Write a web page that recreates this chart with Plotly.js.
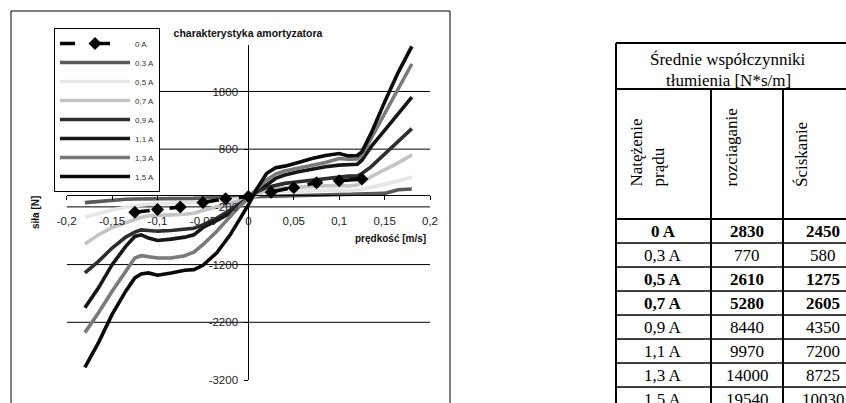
<!DOCTYPE html>
<html>
<head>
<meta charset="utf-8">
<script src="https://cdn.plot.ly/plotly-3.0.1.min.js"></script>
<style>
  html, body { margin: 0; padding: 0; background: #fff; }
  #chart { width: 846px; height: 403px; }
</style>
</head>
<body>
<div id="chart"></div>
<script>
// ---- shock absorber characteristic: force vs. piston velocity ----
const velocity = [-0.18, -0.165, -0.15, -0.135, -0.125, -0.118, -0.11, -0.1, -0.085, -0.07,
                  -0.06, -0.05, -0.035, -0.02, -0.01, 0, 0.01, 0.02, 0.03, 0.04,
                  0.055, 0.07, 0.085, 0.1, 0.11, 0.12, 0.125, 0.135, 0.15, 0.165, 0.18];

const force03 = [-126, -103, -80, -69, -63, -63, -63, -57, -57, -52,
                 -52, -46, -40, -29, -23, -11, -11, -11, -6, -6,
                 0, 6, 11, 17, 17, 23, 23, 29, 34, 98, 109];
const force05 = [-379, -310, -253, -207, -178, -167, -155, -149, -144, -138,
                 -126, -109, -92, -75, -63, -46, 6, 46, 63, 69,
                 75, 80, 86, 92, 80, 86, 103, 138, 190, 247, 316];
const force07 = [-845, -684, -557, -466, -408, -379, -356, -345, -339, -328,
                 -310, -264, -207, -149, -98, -40, 34, 92, 121, 132,
                 144, 155, 167, 172, 161, 178, 218, 322, 437, 563, 701];
const force09 = [-1345, -1144, -914, -724, -638, -598, -609, -621, -609, -586,
                 -569, -511, -397, -253, -149, -52, 63, 138, 178, 207,
                 236, 264, 293, 322, 333, 333, 379, 494, 713, 925, 1155];
const force11 = [-1948, -1603, -1201, -885, -713, -684, -741, -782, -759, -724,
                 -684, -557, -437, -310, -184, -52, 121, 178, 293, 351,
                 408, 454, 494, 523, 534, 540, 609, 839, 1126, 1414, 1701];
const force13 = [-2379, -2034, -1661, -1316, -1086, -1046, -1057, -1086, -1086, -1046,
                 -983, -856, -626, -368, -195, -52, 121, 264, 368, 420,
                 466, 511, 569, 638, 626, 632, 695, 983, 1414, 1845, 2276];
const force15 = [-2983, -2552, -2063, -1661, -1431, -1362, -1345, -1385, -1345, -1299,
                 -1287, -1213, -1000, -684, -425, -167, 130, 379, 477, 506,
                 569, 638, 690, 724, 684, 690, 753, 1069, 1615, 2132, 2580];

// passive damper (0 A) measured at coarser steps
const velocity0 = [-0.125, -0.1, -0.075, -0.05, -0.025, 0, 0.025, 0.05, 0.075, 0.1, 0.125];
const force0    = [-293, -247, -201, -124, -58, -20, 55, 130, 218, 253, 282];

const seriesNames = ["0 A", "0,3 A", "0,5 A", "0,7 A", "0,9 A", "1,1 A", "1,3 A", "1,5 A"];

// axis ticks
const xTickVals = [-0.2, -0.15, -0.1, -0.05, 0, 0.05, 0.1, 0.15, 0.2];
const xTickText = ["-0,2", "-0,15", "-0,1", "-0,05", "0", "0,05", "0,1", "0,15", "0,2"];
const yTickVals = [-3200, -2200, -1200, -200, 800, 1800];
const yTickText = ["-3200", "-2200", "-1200", "-200", "800", "1800"];
const yGridVals = [-2200, -1200, -200, 800, 1800];

// damping coefficient table
const tableCurrents    = ["0 A", "0,3 A", "0,5 A", "0,7 A", "0,9 A", "1,1 A", "1,3 A", "1,5 A"];
const tableRebound     = [2830, 770, 2610, 5280, 8440, 9970, 14000, 19540];
const tableCompression = [2450, 580, 1275, 2605, 4350, 7200, 8725, 10030];
const tableBoldRows    = [true, false, true, true, false, false, false, false];

// ---- page geometry (pixel helpers on a zero-margin paper) ----
const W = 846, H = 403;
const px = x => x / W;
const py = y => 1 - y / H;

const X_RANGE = [-0.2, 0.2];
const Y_RANGE = [-3200, 2600];
const xDom = [px(66.7), px(430)];
const yDom = [py(380), py(45.3)];
// axes cross at the origin
const xZeroPos = xDom[0] + (0 - X_RANGE[0]) / (X_RANGE[1] - X_RANGE[0]) * (xDom[1] - xDom[0]);
const yZeroPos = yDom[0] + (0 - Y_RANGE[0]) / (Y_RANGE[1] - Y_RANGE[0]) * (yDom[1] - yDom[0]);

const SANS = "Liberation Sans, Arial, sans-serif";
const SERIF = "Liberation Serif, Times New Roman, serif";

const lineStyles = [
  { color: "#595959" }, // 0,3 A
  { color: "#e6e6e6" }, // 0,5 A
  { color: "#c4c4c4" }, // 0,7 A
  { color: "#2e2e2e" }, // 0,9 A
  { color: "#161616" }, // 1,1 A
  { color: "#7a7a7a" }, // 1,3 A
  { color: "#0a0a0a" }  // 1,5 A
];
const curves = [force03, force05, force07, force09, force11, force13, force15];

const traces = curves.map((f, i) => ({
  type: "scatter", mode: "lines",
  x: velocity, y: f,
  name: seriesNames[i + 1],
  legendrank: i + 2,
  legendgroup: "g" + (i + 1),
  line: { color: lineStyles[i].color, width: 3.6 },
  hoverinfo: "skip"
}));

traces.push({
  type: "scatter", mode: "lines+markers",
  x: velocity0, y: force0,
  name: seriesNames[0],
  legendrank: 1,
  legendgroup: "g0",
  line: { color: "#000", width: 3.6, dash: "15px,20px" },
  marker: { symbol: "diamond", size: 10, color: "#000" },
  hoverinfo: "skip"
});

// ---- shapes: chart frame, gridlines, table rules ----
const shapes = [];
shapes.push({ type: "rect", xref: "paper", yref: "paper",
  x0: px(11), x1: px(450), y0: py(420), y1: py(11),
  line: { color: "#000", width: 1 }, fillcolor: "rgba(0,0,0,0)", layer: "below" });

yGridVals.forEach(v => shapes.push({
  type: "line", xref: "x", yref: "y", x0: X_RANGE[0], x1: X_RANGE[1], y0: v, y1: v,
  line: { color: "#000", width: 1 }, layer: "below" }));

const T_LEFT = 616, T_RIGHT = 862, T_TOP = 43, T_SEP = 89, T_HEAD = 219, ROW_H = 24;
const colX = [T_LEFT, 711, 783];
const colCenter = [663, 747, 823];
const tLine = (x0, y0, x1, y1, w) => shapes.push({ type: "line", xref: "paper", yref: "paper",
  x0: px(x0), y0: py(y0), x1: px(x1), y1: py(y1), line: { color: "#000", width: w } });
tLine(T_LEFT, T_TOP, T_RIGHT, T_TOP, 2);
tLine(T_LEFT, T_TOP, T_LEFT, 420, 2);
tLine(T_LEFT, T_SEP, T_RIGHT, T_SEP, 2);
tLine(T_LEFT, T_HEAD, T_RIGHT, T_HEAD, 2);
tLine(colX[1], T_SEP, colX[1], 420, 2);
tLine(colX[2], T_SEP, colX[2], 420, 2);
for (let k = 1; k < tableCurrents.length; k++) {
  const y = T_HEAD + k * ROW_H;
  tLine(T_LEFT, y, T_RIGHT, y, 1.5);
}

// ---- annotations: axis titles and table text ----
const label = (x, y, text, font, extra) => Object.assign({
  xref: "paper", yref: "paper", x: px(x), y: py(y), text: text,
  xanchor: "center", yanchor: "middle", showarrow: false, font: font
}, extra || {});

const axisFont = { family: SANS, size: 10, color: "#111" };
const tableFont = { family: SERIF, size: 17, color: "#000" };

const annotations = [
  label(390, 238, "<b>prędkość [m/s]</b>", axisFont),
  label(35, 213, "<b>siła [N]</b>", axisFont, { textangle: -90 }),
  label(728, 60, "Średnie współczynniki", tableFont),
  label(728, 80, "tłumienia [N*s/m]", tableFont),
  label(624, 189, "Natężenie<br>prądu", tableFont,
        { xanchor: "left", yanchor: "bottom", align: "left", textangle: -90 }),
  label(719, 189, "rozciaganie", tableFont,
        { xanchor: "left", yanchor: "bottom", textangle: -90 }),
  label(790, 189, "Ściskanie", tableFont,
        { xanchor: "left", yanchor: "bottom", textangle: -90 })
];

tableCurrents.forEach((cur, i) => {
  const yc = T_HEAD + ROW_H * (i + 0.5);
  const wrap = s => tableBoldRows[i] ? "<b>" + s + "</b>" : String(s);
  [cur, tableRebound[i], tableCompression[i]].forEach((val, c) =>
    annotations.push(label(colCenter[c], yc, wrap(val), tableFont)));
});

const layout = {
  width: W, height: H,
  margin: { l: 0, r: 0, t: 0, b: 0 },
  paper_bgcolor: "#fff",
  plot_bgcolor: "rgba(0,0,0,0)",
  title: {
    text: "<b>charakterystyka amortyzatora</b>",
    xref: "paper", yref: "paper",
    x: px(248), xanchor: "center", y: py(33), yanchor: "middle",
    font: { family: SANS, size: 10.5, color: "#111" }
  },
  xaxis: {
    domain: xDom, range: X_RANGE, anchor: "free", position: yZeroPos,
    showline: true, linecolor: "#000", linewidth: 1,
    ticks: "outside", ticklen: 4, tickcolor: "#000", tickwidth: 1,
    tickvals: xTickVals, ticktext: xTickText,
    ticklabelstandoff: 11,
    showgrid: false, zeroline: false, fixedrange: true,
    tickfont: { family: SANS, size: 11.5, color: "#222" }
  },
  yaxis: {
    domain: yDom, range: Y_RANGE, anchor: "free", position: xZeroPos,
    showline: true, linecolor: "#000", linewidth: 1,
    ticks: "outside", ticklen: 4, tickcolor: "#000", tickwidth: 1,
    tickvals: yTickVals, ticktext: yTickText,
    ticklabelstandoff: 4,
    showgrid: false, zeroline: false, fixedrange: true,
    tickfont: { family: SANS, size: 11.5, color: "#222" }
  },
  showlegend: true,
  legend: {
    x: px(54), y: py(28), xanchor: "left", yanchor: "top",
    bgcolor: "#fff", bordercolor: "#000", borderwidth: 1,
    itemwidth: 70, tracegroupgap: 1, traceorder: "normal",
    font: { family: SANS, size: 8, color: "#333" }
  },
  shapes: shapes,
  annotations: annotations
};

Plotly.newPlot("chart", traces, layout, { displayModeBar: false, staticPlot: true });
</script>
</body>
</html>
